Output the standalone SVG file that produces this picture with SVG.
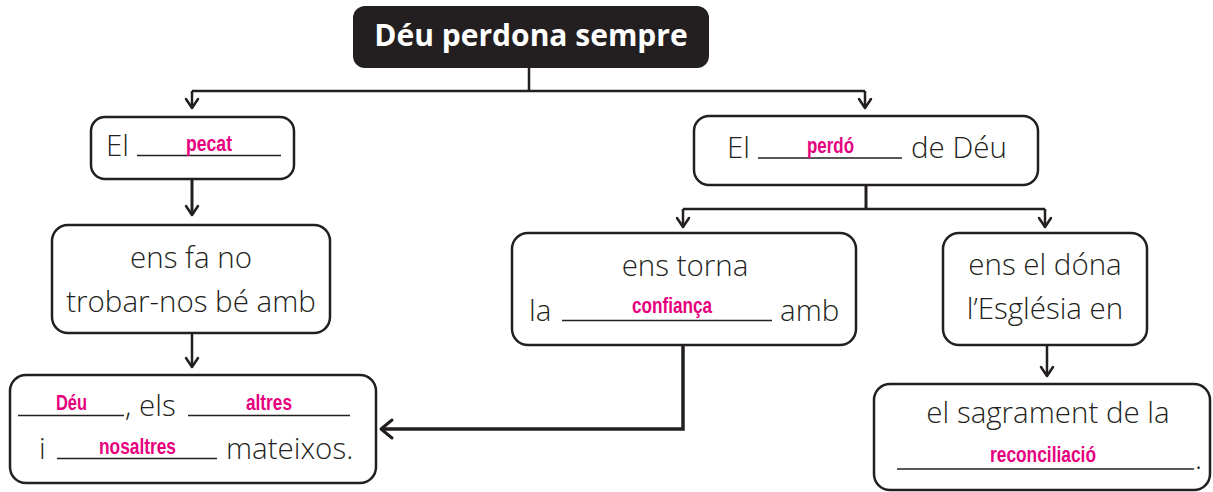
<svg xmlns="http://www.w3.org/2000/svg" width="1213" height="492" viewBox="0 0 1213 492">
<style>
.box{fill:#fff;stroke:#231f20;stroke-width:2.5}
.t{font-family:"Open Sans","Liberation Sans",sans-serif;font-size:29.5px;font-weight:300;fill:#231f20}
.a{font-family:"Liberation Sans","Arial",sans-serif;font-size:22px;font-weight:bold;fill:#e6007e}
.u{stroke:#231f20;stroke-width:1.3}
.c{fill:none;stroke:#231f20;stroke-width:2.5}
.ch{fill:none;stroke:#231f20;stroke-width:2.5;stroke-linecap:round;stroke-linejoin:round}
</style>
<defs>
<path id="ad" d="M-6,-9 L0,0 L6,-9" class="ch"/>
</defs>
<g id="connectors">
<path class="c" d="M529,68 V91 M192,91 H865 M192,91 V108 M865,91 V108"/>
<use href="#ad" x="192" y="108"/>
<use href="#ad" x="865" y="108"/>
<path class="c" style="stroke-width:3" d="M192,179 V214"/>
<use href="#ad" x="192" y="215"/>
<path class="c" d="M192,333 V366"/>
<use href="#ad" x="192" y="367"/>
<path class="c" style="stroke-width:3" d="M866,185 V209"/>
<path class="c" d="M683,209 H1045 M683,209 V226 M1045,209 V226"/>
<use href="#ad" x="683" y="227"/>
<use href="#ad" x="1045" y="227"/>
<path class="c" d="M1047,345 V375"/>
<use href="#ad" x="1047" y="376"/>
<path class="c" style="stroke-width:3.5" d="M683,345 V429 H382"/>
<path class="ch" style="stroke-width:3" d="M392,420 L381,429 L392,438"/>
</g>
<g id="title">
<rect x="353" y="6" width="356" height="62" rx="12" fill="#231f20"/>
<text x="531" y="46" text-anchor="middle" style="font-family:'Open Sans','Liberation Sans',sans-serif;font-size:30px;font-weight:bold;fill:#fff">Déu perdona sempre</text>
</g>
<g id="n-pecat">
<rect class="box" x="91" y="117" width="203" height="62" rx="14"/>
<text class="t" x="106" y="156">El</text>
<line class="u" x1="137" y1="155.5" x2="281" y2="155.5"/>
<text class="a" x="186" y="151" textLength="46" lengthAdjust="spacingAndGlyphs">pecat</text>
</g>
<g id="n-ensfano">
<rect class="box" x="52" y="225" width="278" height="108" rx="16"/>
<text class="t" x="191" y="268" text-anchor="middle">ens fa no</text>
<text class="t" x="191" y="312" text-anchor="middle">trobar-nos bé amb</text>
</g>
<g id="n-deu">
<rect class="box" x="10" y="375" width="366" height="108" rx="16"/>
<line class="u" x1="18" y1="415.5" x2="124" y2="415.5"/>
<text class="a" x="56" y="410" textLength="31" lengthAdjust="spacingAndGlyphs">Déu</text>
<text class="t" x="125" y="416">, els</text>
<line class="u" x1="188" y1="415.5" x2="350" y2="415.5"/>
<text class="a" x="246" y="410" textLength="46" lengthAdjust="spacingAndGlyphs">altres</text>
<text class="t" x="39" y="459">i</text>
<line class="u" x1="57" y1="458.5" x2="217" y2="458.5"/>
<text class="a" x="99" y="454" textLength="77" lengthAdjust="spacingAndGlyphs">nosaltres</text>
<text class="t" x="226" y="459">mateixos.</text>
</g>
<g id="n-perdo">
<rect class="box" x="694" y="116" width="344" height="69" rx="15"/>
<text class="t" x="727" y="158">El</text>
<line class="u" x1="758" y1="158" x2="902" y2="158"/>
<text class="a" x="807" y="153" textLength="47" lengthAdjust="spacingAndGlyphs">perdó</text>
<text class="t" x="911" y="158">de Déu</text>
</g>
<g id="n-confianca">
<rect class="box" x="512" y="233" width="344" height="112" rx="16"/>
<text class="t" x="685" y="276" text-anchor="middle">ens torna</text>
<text class="t" x="529" y="321">la</text>
<line class="u" x1="562" y1="320.5" x2="772" y2="320.5"/>
<text class="a" x="632" y="313" textLength="80" lengthAdjust="spacingAndGlyphs">confiança</text>
<text class="t" x="780" y="321">amb</text>
</g>
<g id="n-esglesia">
<rect class="box" x="943" y="233" width="204" height="112" rx="16"/>
<text class="t" x="1045" y="275" text-anchor="middle">ens el dóna</text>
<text class="t" x="1045" y="319" text-anchor="middle">l’Església en</text>
</g>
<g id="n-sagrament">
<rect class="box" x="874" y="384" width="336" height="106" rx="16"/>
<text class="t" x="1048" y="423" text-anchor="middle">el sagrament de la</text>
<line class="u" x1="897" y1="469" x2="1194" y2="469"/>
<text class="a" x="990" y="462" textLength="106" lengthAdjust="spacingAndGlyphs">reconciliació</text>
<text class="t" x="1195" y="469">.</text>
</g>
</svg>
